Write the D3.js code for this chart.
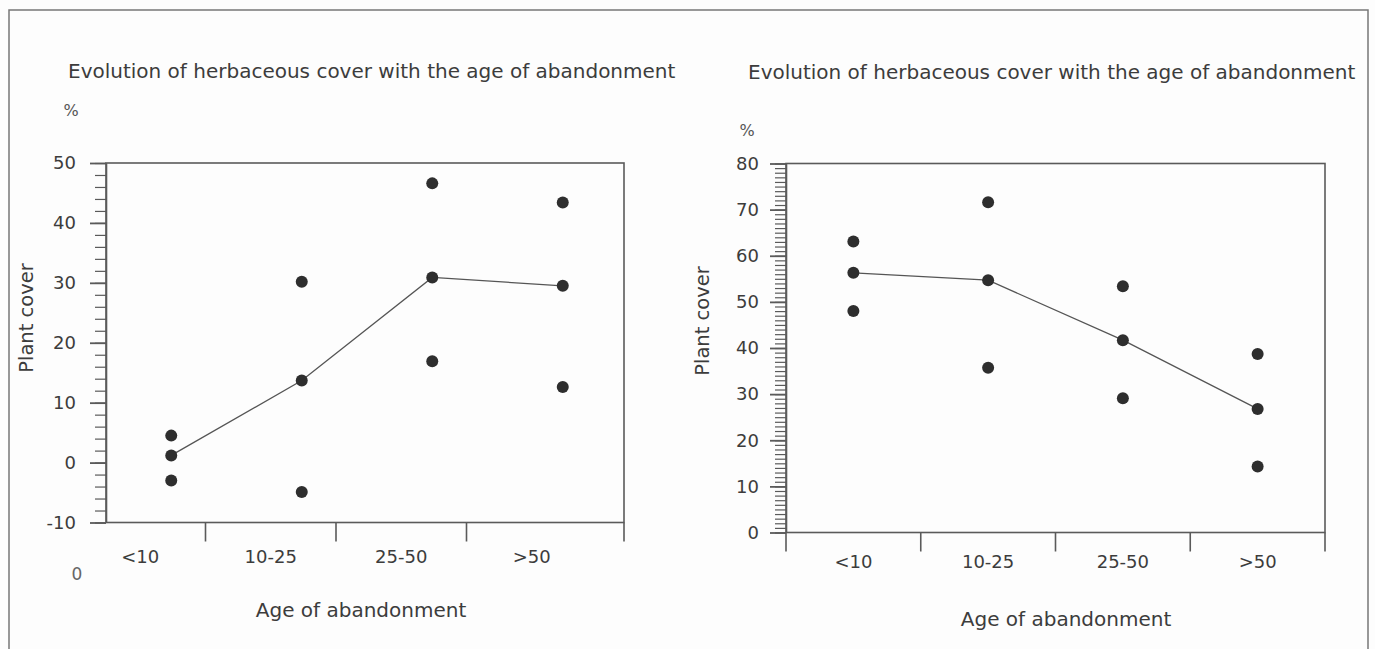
<!DOCTYPE html>
<html>
<head>
<meta charset="utf-8">
<script src="https://cdn.jsdelivr.net/npm/d3@7"></script>
<style>
  body { margin: 0; background: #fdfdfd; }
  svg { display: block; font-family: "DejaVu Sans", sans-serif; }
</style>
</head>
<body>
<div id="chart"></div>
<script>
// data
const ageGroups = ['<10', '10-25', '25-50', '>50'];

const leftLow  = [-3.0, -4.9, 16.9, 12.6];
const leftMid  = [1.2, 13.7, 30.9, 29.5];
const leftHigh = [4.5, 30.2, 46.6, 43.4];
const leftTicks = [-10, 0, 10, 20, 30, 40, 50];

const rightLow  = [48.0, 35.7, 29.1, 14.3];
const rightMid  = [56.3, 54.7, 41.7, 26.8];
const rightHigh = [63.1, 71.6, 53.4, 38.7];
const rightTicks = [0, 10, 20, 30, 40, 50, 60, 70, 80];

const title = "Evolution of herbaceous cover with the age of abandonment";

const ink = "#3c3c3c";
const axisColor = "#5a5a5a";

const svg = d3.select("#chart")
    .append("svg")
    .attr("width", 1375)
    .attr("height", 649);

// outer frame (no bottom edge visible in the scan)
svg.append("path")
    .attr("d", "M9,649 V10 H1368 V649")
    .attr("fill", "none")
    .attr("stroke", "#777")
    .attr("stroke-width", 1.5);

function drawPanel(p) {
    const g = svg.append("g");

    const y = d3.scaleLinear().domain(p.yDomain).range([p.bottom, p.top]);
    const x = d3.scaleBand().domain(ageGroups).range(p.bandRange);

    // plot box
    g.append("rect")
        .attr("x", p.left)
        .attr("y", p.top)
        .attr("width", p.right - p.left)
        .attr("height", p.bottom - p.top)
        .attr("fill", "none")
        .attr("stroke", axisColor)
        .attr("stroke-width", 1.6);

    // minor ticks
    g.append("g")
        .attr("transform", `translate(${p.left},0)`)
        .call(d3.axisLeft(y).tickValues(d3.range(p.yDomain[0], p.yDomain[1] + 0.01, p.minorStep)).tickSize(11).tickFormat(""))
        .call(a => a.select(".domain").remove())
        .call(a => a.selectAll("line").attr("stroke", axisColor).attr("stroke-width", 1.2));

    // major ticks + labels (plain hyphen for negatives, as in the print)
    g.append("g")
        .attr("transform", `translate(${p.left},0)`)
        .call(d3.axisLeft(y).tickValues(p.ticks).tickFormat(d => String(d))
            .tickSize(16).tickPadding(p.tickPad).tickSizeOuter(0))
        .call(a => a.select(".domain").attr("stroke", axisColor).attr("stroke-width", 1.6))
        .call(a => a.selectAll("line").attr("stroke", axisColor).attr("stroke-width", 1.8))
        .call(a => a.selectAll("text")
            .attr("fill", ink)
            .style("font-size", "18px")
            .style("font-family", "DejaVu Sans"));

    // x axis: band boundaries as ticks hanging below the box
    const bounds = ageGroups.slice(1).map(d => x(d));
    bounds.push(p.right);
    if (p.leftTick) bounds.unshift(p.left);
    g.selectAll(".xtick")
        .data(bounds)
        .enter().append("line")
        .attr("x1", d => d).attr("x2", d => d)
        .attr("y1", p.bottom).attr("y2", p.bottom + 19)
        .attr("stroke", axisColor)
        .attr("stroke-width", 1.6);

    g.selectAll(".xlabel")
        .data(ageGroups)
        .enter().append("text")
        .attr("x", d => x(d) + x.bandwidth() / 2)
        .attr("y", p.bottom + p.xLabelDy)
        .attr("text-anchor", "middle")
        .attr("fill", ink)
        .style("font-size", "18px")
        .text(d => d);

    // mean line
    const cx = d => x(d) + x.bandwidth() / 2 + p.pointShift;
    const line = d3.line()
        .x((d, i) => cx(ageGroups[i]))
        .y(d => y(d));
    g.append("path")
        .datum(p.mid)
        .attr("d", line)
        .attr("fill", "none")
        .attr("stroke", "#555")
        .attr("stroke-width", 1.3);

    // points
    const pts = [];
    [p.low, p.mid, p.high].forEach(series => {
        series.forEach((v, i) => pts.push({cat: ageGroups[i], v: v}));
    });
    g.selectAll(".dot")
        .data(pts)
        .enter().append("circle")
        .attr("cx", d => cx(d.cat))
        .attr("cy", d => y(d.v))
        .attr("r", 6)
        .attr("fill", "#2e2e2e");

    // texts
    g.append("text")
        .attr("x", p.titleX)
        .attr("y", p.titleY)
        .attr("fill", ink)
        .style("font-size", "20px")
        .text(title);

    g.append("text")
        .attr("x", p.pctX)
        .attr("y", p.pctY)
        .attr("text-anchor", "middle")
        .attr("fill", "#555")
        .style("font-size", "16px")
        .text("%");

    g.append("text")
        .attr("transform", `translate(${p.yTitleX},${p.yTitleY}) rotate(-90)`)
        .attr("text-anchor", "middle")
        .attr("fill", ink)
        .style("font-size", "19.5px")
        .text("Plant cover");

    g.append("text")
        .attr("x", p.xTitleX)
        .attr("y", p.xTitleY)
        .attr("text-anchor", "middle")
        .attr("fill", ink)
        .style("font-size", "20px")
        .text("Age of abandonment");
}

drawPanel({
    left: 106, right: 624, top: 163, bottom: 522.5,
    yDomain: [-10, 50], ticks: leftTicks, minorStep: 2, tickPad: 14,
    bandRange: [75, 597], pointShift: 31, leftTick: false, xLabelDy: 40,
    low: leftLow, mid: leftMid, high: leftHigh,
    titleX: 68, titleY: 78, pctX: 71, pctY: 116,
    yTitleX: 33, yTitleY: 318, xTitleX: 361, xTitleY: 617
});

drawPanel({
    left: 786, right: 1325, top: 163.5, bottom: 532.5,
    yDomain: [0, 80], ticks: rightTicks, minorStep: 1, tickPad: 11,
    bandRange: [786, 1325], pointShift: 0, leftTick: true, xLabelDy: 35,
    low: rightLow, mid: rightMid, high: rightHigh,
    titleX: 748, titleY: 79, pctX: 747, pctY: 136,
    yTitleX: 709, yTitleY: 321, xTitleX: 1066, xTitleY: 626
});

// stray digit left over in the scan, below the left y axis
svg.append("text")
    .attr("x", 77)
    .attr("y", 580)
    .attr("text-anchor", "middle")
    .attr("fill", "#666")
    .style("font-size", "17px")
    .text("0");
</script>
</body>
</html>
